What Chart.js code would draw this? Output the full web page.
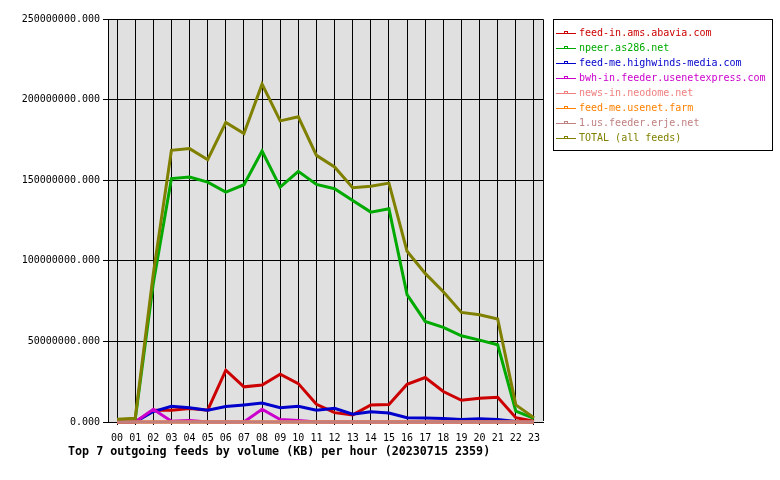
<!DOCTYPE html>
<html>
<head>
<meta charset="utf-8">
<script src="https://cdn.jsdelivr.net/npm/chart.js@4"></script>
<style>
  body { margin: 0; background: #ffffff; }
  #wrap { width: 780px; height: 480px; }
</style>
</head>
<body>
<div id="wrap"><canvas id="chart" width="780" height="480"></canvas></div>
<script>
// Datos (KB por hora)
const hours = ["00","01","02","03","04","05","06","07","08","09","10","11",
               "12","13","14","15","16","17","18","19","20","21","22","23"];

const abavia = [0, 0, 7300000, 7300000, 8300000, 7300000, 32100000, 21800000,
  23000000, 29600000, 23800000, 11000000, 5800000, 4400000, 10600000, 10800000,
  23400000, 27600000, 18900000, 13500000, 14700000, 15400000, 2700000, 500000];

const npeer = [1200000, 1500000, 86000000, 151000000, 152000000, 148800000,
  142600000, 147200000, 168100000, 145700000, 155500000, 147400000, 144700000,
  137400000, 130200000, 132300000, 79000000, 62400000, 58700000, 53500000,
  50800000, 47900000, 6800000, 2300000];

const highwinds = [0, 0, 6500000, 9800000, 8900000, 7300000, 9600000, 10600000,
  11800000, 8900000, 9800000, 7300000, 8500000, 4800000, 6400000, 5600000,
  2700000, 2500000, 2200000, 1500000, 2000000, 1500000, 300000, 0];

const usenetexpress = [0, 0, 7900000, 500000, 1000000, 0, 0, 0, 7900000,
  1500000, 1000000, 0, 0, 0, 0, 0, 0, 0, 0, 0, 0, 0, 0, 0];

const neodome = [0, 0, 0, 0, 0, 0, 0, 0, 0, 0, 0, 0, 0, 0, 0, 0, 0, 0, 0, 0, 0, 0, 0, 0];
const usenetFarm = [0, 0, 0, 0, 0, 0, 0, 0, 0, 0, 0, 0, 0, 0, 0, 0, 0, 0, 0, 0, 0, 0, 0, 0];
const erje = [0, 0, 0, 0, 0, 0, 0, 0, 0, 0, 0, 0, 0, 0, 0, 0, 0, 0, 0, 0, 0, 0, 0, 0];

const total = [1700000, 2300000, 92000000, 168500000, 169600000, 162700000,
  185800000, 178900000, 209600000, 186800000, 189300000, 165400000, 158200000,
  145300000, 146300000, 148200000, 105900000, 92200000, 80800000, 68000000,
  66500000, 63900000, 10600000, 2700000];

const feedNames = ["feed-in.ams.abavia.com", "npeer.as286.net",
  "feed-me.highwinds-media.com", "bwh-in.feeder.usenetexpress.com",
  "news-in.neodome.net", "feed-me.usenet.farm", "1.us.feeder.erje.net",
  "TOTAL (all feeds)"];
const feedColors = ["#cc0000", "#00aa00", "#0000cc", "#cc00cc",
  "#f08080", "#ff8000", "#c08080", "#808000"];
const feedValues = [abavia, npeer, highwinds, usenetexpress, neodome, usenetFarm, erje, total];

const chartTitle = "Top 7 outgoing feeds by volume (KB) per hour (20230715 2359)";
const mono = "'DejaVu Sans Mono', 'Liberation Mono', monospace";

// Fondo gris del área, borde, leyenda y título
const decor = {
  id: "decor",
  beforeDraw(chart) {
    const { ctx, chartArea: a } = chart;
    ctx.save();
    ctx.fillStyle = "#e0e0e0";
    ctx.fillRect(a.left, a.top, a.right - a.left, a.bottom - a.top);
    ctx.restore();
  },
  afterDraw(chart) {
    const { ctx, chartArea: a } = chart;
    ctx.save();
    ctx.strokeStyle = "#000";
    ctx.lineWidth = 1;
    ctx.beginPath();
    ctx.moveTo(Math.round(a.left) + 0.5, Math.round(a.top) + 0.5);
    ctx.lineTo(Math.round(a.right) + 0.5, Math.round(a.top) + 0.5);
    ctx.lineTo(Math.round(a.right) + 0.5, Math.round(a.bottom) - 1);
    ctx.stroke();

    // Leyenda
    const lx = a.right + 10;
    ctx.strokeRect(lx + 0.5, 19.5, 219, 131);
    ctx.font = "10px " + mono;
    ctx.textBaseline = "middle";
    feedNames.forEach((name, i) => {
      const y = 33.5 + i * 15;
      ctx.strokeStyle = feedColors[i];
      ctx.lineWidth = 1;
      ctx.beginPath();
      ctx.moveTo(lx + 3, y);
      ctx.lineTo(lx + 23, y);
      ctx.stroke();
      ctx.strokeRect(lx + 11.5, y - 2, 3, 2);
      ctx.fillStyle = feedColors[i];
      ctx.fillText(name, lx + 26, y);
    });

    // Título inferior
    ctx.fillStyle = "#000";
    ctx.font = "bold 11.7px " + mono;
    ctx.fillText(chartTitle, 68, 452);
    ctx.restore();
  }
};

const datasets = feedNames.map((name, i) => ({
  label: name,
  data: feedValues[i],
  borderColor: feedColors[i],
  backgroundColor: feedColors[i],
  borderWidth: 3,
  pointRadius: 0,
  tension: 0,
  fill: false,
  clip: false,
  order: feedNames.length - i
}));

new Chart(document.getElementById("chart"), {
  type: "line",
  data: { labels: hours, datasets: datasets },
  options: {
    responsive: false,
    animation: false,
    devicePixelRatio: 1,
    layout: { padding: { top: 19, right: 237, bottom: 28, left: 0 } },
    plugins: {
      legend: { display: false },
      tooltip: { enabled: false },
      title: { display: false }
    },
    scales: {
      x: {
        offset: true,
        afterFit: (s) => { s.height = 30; },
        grid: { color: "#000", lineWidth: 1, tickLength: 3, offset: false },
        border: { display: true, color: "#000" },
        ticks: {
          color: "#000",
          font: { family: mono, size: 10 },
          maxRotation: 0,
          autoSkip: false,
          padding: 7
        }
      },
      y: {
        min: 0,
        max: 250000000,
        afterFit: (s) => { s.width = 108; },
        grid: { color: "#000", lineWidth: 1, tickLength: 5 },
        border: { display: true, color: "#000" },
        ticks: {
          stepSize: 50000000,
          color: "#000",
          font: { family: mono, size: 10 },
          padding: 3,
          callback: (v) => Number(v).toFixed(3)
        }
      }
    }
  },
  plugins: [decor]
});
</script>
</body>
</html>
